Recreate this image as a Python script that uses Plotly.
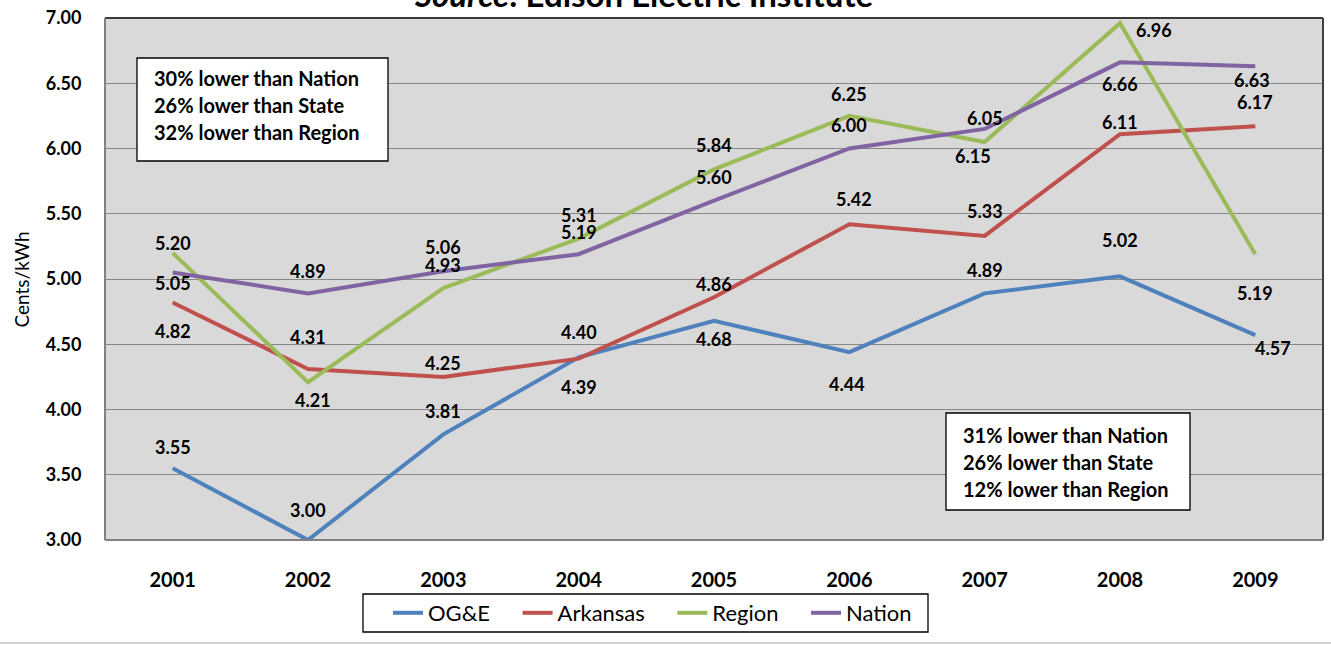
import plotly.graph_objects as go

years = ["2001", "2002", "2003", "2004", "2005", "2006", "2007", "2008", "2009"]
oge = [3.55, 3.00, 3.81, 4.40, 4.68, 4.44, 4.89, 5.02, 4.57]
arkansas = [4.82, 4.31, 4.25, 4.39, 4.86, 5.42, 5.33, 6.11, 6.17]
region = [5.20, 4.21, 4.93, 5.31, 5.84, 6.25, 6.05, 6.96, 5.19]
nation = [5.05, 4.89, 5.06, 5.19, 5.60, 6.00, 6.15, 6.66, 6.63]
series_names = ["OG&E", "Arkansas", "Region", "Nation"]
y_ticks = [3.0, 3.5, 4.0, 4.5, 5.0, 5.5, 6.0, 6.5, 7.0]
box1_lines = ["30% lower than Nation", "26% lower than State", "32% lower than Region"]
box2_lines = ["31% lower than Nation", "26% lower than State", "12% lower than Region"]
title_text = "<i>Source</i>: Edison Electric Institute"
y_title = "Cents/kWh"

# style: colours and label pixel offsets (dx, dy with dy positive = downward)
colors = ["#4F81BD", "#C0504D", "#9BBB59", "#8064A2"]
label_offsets = [
    [(0, -21), (0, -30), (0, -23), (0, -25), (0, 18), (-2, 32), (0, -23), (0, -36), (18, 13)],
    [(0, 29), (0, -32), (0, -14), (0, 28), (0, -13), (5, -25), (0, -25), (0, -12), (0, -24)],
    [(0, -10), (5, 18), (0, -23), (0, -24), (0, -24), (0, -22), (0, -24), (34, 7), (0, 39)],
    [(0, 11), (0, -22), (0, -24), (0, -22), (0, -24), (0, -24), (-12, 27), (0, 22), (-3, 14)],
]
LEGEND_PAD = "\u00a0" * 4

FONT = "Lato"
W, H = 1331, 646
L, R, T, B = 105, 1323, 18, 540
PW, PH = R - L, B - T


def px(x):
    return (x - L) / PW


def py(y):
    return (B - y) / PH


fig = go.Figure()
all_series = [oge, arkansas, region, nation]
for name, vals, col in zip(series_names, all_series, colors):
    fig.add_trace(go.Scatter(
        x=years, y=vals, mode="lines", name=name + LEGEND_PAD,
        line=dict(color=col, width=4), hovertemplate=name + ": %{y:.2f}<extra></extra>",
    ))

annotations = []
for vals, offs in zip(all_series, label_offsets):
    for i, (v, (dx, dy)) in enumerate(zip(vals, offs)):
        annotations.append(dict(
            x=i, y=v, xref="x", yref="y", text=f"<b>{v:.2f}</b>", showarrow=False,
            xshift=dx, yshift=-dy,
            font=dict(family=FONT, size=18, color="black"),
        ))

# text boxes
shapes = []
for (x0, y0, x1, y1) in [(137, 58, 388, 161), (946, 413, 1190, 510)]:
    shapes.append(dict(type="rect", xref="paper", yref="paper",
                       x0=px(x0), x1=px(x1), y0=py(y1), y1=py(y0),
                       fillcolor="white", line=dict(color="black", width=1.3), layer="above"))

for lines, (lx, ly0) in [(box1_lines, (152, 78)), (box2_lines, (961, 435))]:
    for i, t in enumerate(lines):
        annotations.append(dict(
            x=px(lx), y=py(ly0 + 27 * i), xref="paper", yref="paper",
            text=f"<b>{t}</b>", showarrow=False, xanchor="left", yanchor="middle",
            font=dict(family=FONT, size=20, color="black"),
        ))

# title (cut off at top)
annotations.append(dict(
    x=px(643), y=py(16), xref="paper", yref="paper", text=f"<b>{title_text}</b>",
    showarrow=False, xanchor="center", yanchor="bottom",
    font=dict(family=FONT, size=33, color="black"),
))
# y axis title
annotations.append(dict(
    x=px(20.5), y=py(280), xref="paper", yref="paper", text=y_title,
    showarrow=False, textangle=-90, xanchor="center", yanchor="middle",
    font=dict(family=FONT, size=19, color="black"),
))

# legend box
shapes.append(dict(type="rect", xref="paper", yref="paper",
                   x0=px(363), x1=px(928), y0=py(632), y1=py(594),
                   fillcolor="white", line=dict(color="black", width=1.3), layer="below"))

# plot borders
shapes += [
    dict(type="line", xref="paper", yref="paper", x0=0, x1=1, y0=1, y1=1,
         line=dict(color="#3a3a3a", width=2), layer="above"),
    dict(type="line", xref="paper", yref="paper", x0=1, x1=1, y0=0, y1=1,
         line=dict(color="#404040", width=2), layer="above"),
    dict(type="line", xref="paper", yref="paper", x0=0, x1=0, y0=0, y1=1,
         line=dict(color="#808080", width=2), layer="above"),
    dict(type="line", xref="paper", yref="paper", x0=0, x1=1, y0=0, y1=0,
         line=dict(color="#808080", width=2), layer="above"),
    dict(type="line", xref="paper", yref="paper", x0=px(0), x1=px(W), y0=py(643), y1=py(643),
         line=dict(color="#d4d4d4", width=2)),
]

fig.update_layout(
    width=W, height=H,
    margin=dict(l=L, r=W - R, t=T, b=H - B, autoexpand=False),
    paper_bgcolor="white", plot_bgcolor="#D9D9D9",
    font=dict(family=FONT, color="black"),
    showlegend=True,
    legend=dict(
        orientation="h", x=px(388), xanchor="left", y=py(613), yanchor="middle",
        borderwidth=0, bgcolor="rgba(0,0,0,0)",
        font=dict(family=FONT, size=22, color="black"),
        itemwidth=30, tracegroupgap=0,
    ),
    xaxis=dict(
        type="category", range=[-0.5, len(years) - 0.5], showgrid=False, zeroline=False,
        ticks="outside", ticklen=22, tickcolor="rgba(0,0,0,0)",
        tickfont=dict(family=FONT, size=20, color="black", weight="bold"),
        showline=False, fixedrange=True,
    ),
    yaxis=dict(
        range=[3, 7], tickvals=y_ticks, tickformat=".2f", showgrid=True,
        gridcolor="#888888", gridwidth=1.3, zeroline=False,
        ticks="outside", ticklen=19, tickcolor="rgba(0,0,0,0)",
        tickfont=dict(family=FONT, size=18, color="black", weight="bold"),
        showline=False, fixedrange=True,
    ),
    annotations=annotations, shapes=shapes,
)

fig.write_html("out.html")
